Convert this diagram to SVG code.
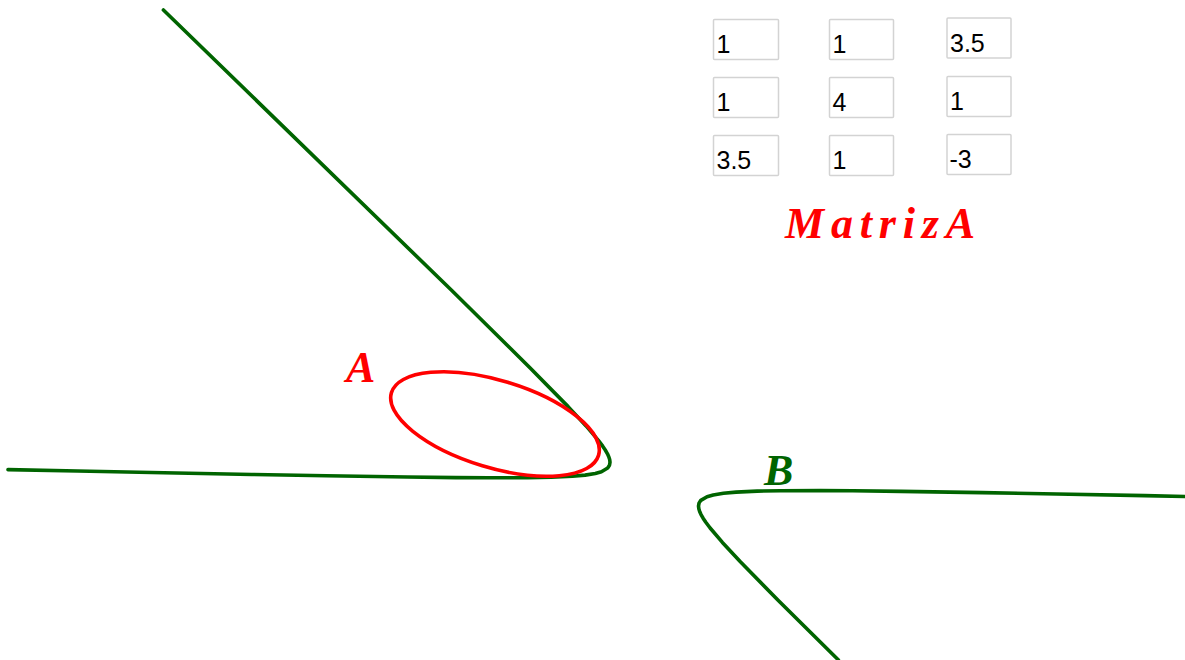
<svg xmlns="http://www.w3.org/2000/svg" width="1185" height="660" viewBox="0 0 1185 660">
<style>
.box{fill:#ffffff;stroke:#d3d3d3;stroke-width:1.5}
.val{font-family:"Liberation Sans",Arial,sans-serif;font-size:25px;fill:#000000}
.lbl{font-family:"Liberation Serif","Times New Roman",serif;font-style:italic;font-weight:bold;font-size:44px}
.curve{fill:none;stroke-width:3.6;stroke-linejoin:round;stroke-linecap:round}
</style>
<rect width="1185" height="660" fill="#ffffff"/>
<g id="matrix">
<g id="a11"><rect class="box" x="713.5" y="19.5" width="65" height="40" rx="1"/><text class="val" x="716.5" y="53">1</text></g>
<g id="a12"><rect class="box" x="829.5" y="19.5" width="64" height="40" rx="1"/><text class="val" x="832.5" y="53">1</text></g>
<g id="a13"><rect class="box" x="947" y="18" width="64" height="40" rx="1"/><text class="val" x="950" y="51.5">3.5</text></g>
<g id="a21"><rect class="box" x="713.5" y="77.5" width="65" height="40" rx="1"/><text class="val" x="716.5" y="111">1</text></g>
<g id="a22"><rect class="box" x="829.5" y="77.5" width="64" height="40" rx="1"/><text class="val" x="832.5" y="111">4</text></g>
<g id="a23"><rect class="box" x="947" y="76.5" width="64" height="40" rx="1"/><text class="val" x="950" y="110">1</text></g>
<g id="a31"><rect class="box" x="713.5" y="135.5" width="65" height="40" rx="1"/><text class="val" x="716.5" y="169">3.5</text></g>
<g id="a32"><rect class="box" x="829.5" y="135.5" width="64" height="40" rx="1"/><text class="val" x="832.5" y="169">1</text></g>
<g id="a33"><rect class="box" x="947" y="134.5" width="64" height="40" rx="1"/><text class="val" x="949.5" y="168">-3</text></g>
</g>
<g id="title"><text class="lbl" x="785" y="238" fill="#ff0000" textLength="190" lengthAdjust="spacing">MatrizA</text></g>
<g id="conicB">
<path class="curve" stroke="#006400" d="M8,469.65 L77.52,471.05 L163.75,472.76 L251.8,474.43 L326.42,475.77 L407.5,477.03 L455.95,477.59 L488.08,477.8 L527.88,477.71 L551.35,477.27 L572.44,476.3 L585.06,475.15 L595.3,473.47 L601.46,471.71 L607.66,468.06 L609.49,465.26 L610,462.31 L609.67,459.58 L608.77,456.72 L607.46,453.85 L605.26,450.02 L602.7,446.18 L598.37,440.41 L586.09,425.95 L568.13,406.63 L530.17,367.95 L451.8,290.55 L163.4,10"/>
<path class="curve" stroke="#006400" d="M1185,496.43 L1144.75,495.64 L1056.7,493.97 L982.08,492.63 L901,491.37 L852.55,490.81 L820.42,490.6 L780.62,490.69 L757.15,491.13 L736.06,492.1 L723.44,493.25 L713.2,494.93 L707.04,496.69 L700.84,500.34 L699.01,503.14 L698.5,506.09 L698.83,508.82 L699.73,511.68 L701.04,514.55 L703.24,518.38 L705.8,522.22 L710.13,527.99 L722.41,542.45 L740.37,561.77 L778.33,600.45 L838.45,660"/>
<text class="lbl" x="764" y="485" fill="#006400">B</text>
</g>
<g id="conicA">
<ellipse class="curve" stroke="#ff0000" cx="495" cy="424" rx="108.2" ry="43.6" transform="rotate(16.85 495 424)"/>
<text class="lbl" x="346" y="382" fill="#ff0000">A</text>
</g>
</svg>
